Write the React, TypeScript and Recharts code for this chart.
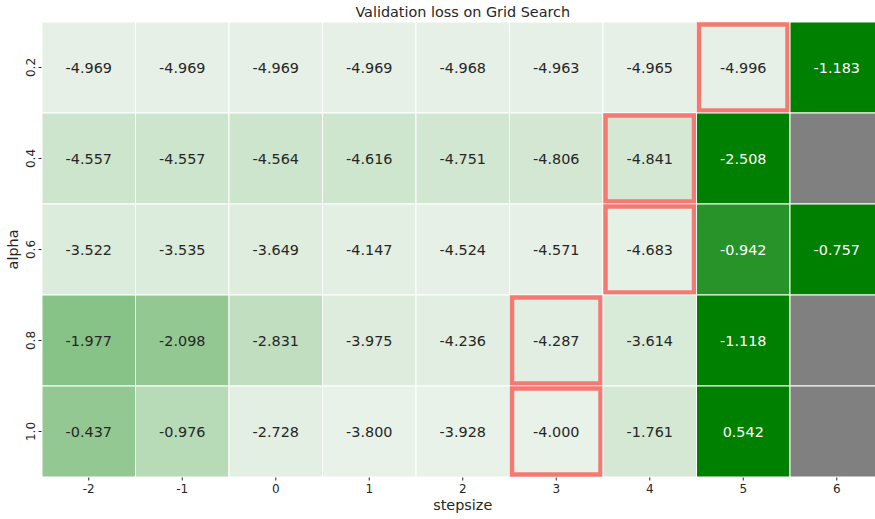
import { ScatterChart, Scatter, XAxis, YAxis } from "recharts"

const stepsizes = [-2, -1, 0, 1, 2, 3, 4, 5, 6]
const alphas = [0.2, 0.4, 0.6, 0.8, 1.0]

// validation loss, one array per alpha row (null = not run)
const loss02 = [-4.969, -4.969, -4.969, -4.969, -4.968, -4.963, -4.965, -4.996, -1.183]
const loss04 = [-4.557, -4.557, -4.564, -4.616, -4.751, -4.806, -4.841, -2.508, null]
const loss06 = [-3.522, -3.535, -3.649, -4.147, -4.524, -4.571, -4.683, -0.942, -0.757]
const loss08 = [-1.977, -2.098, -2.831, -3.975, -4.236, -4.287, -3.614, -1.118, null]
const loss10 = [-0.437, -0.976, -2.728, -3.8, -3.928, -4.0, -1.761, 0.542, null]
const lossRows = [loss02, loss04, loss06, loss08, loss10]

const FONT = "DejaVu Sans"
const W = 890
const H = 519
const PLOT_LEFT = 42
const PLOT_TOP = 22
const PLOT_RIGHT = 883.5
const PLOT_BOTTOM = 477
const CELL_W = (PLOT_RIGHT - PLOT_LEFT) / stepsizes.length
const CELL_H = (PLOT_BOTTOM - PLOT_TOP) / alphas.length

const LIGHT = [235, 243, 235]
const GREEN = [0, 128, 0]

function lin(c: number) {
  const s = c / 255
  return s <= 0.03928 ? s / 12.92 : Math.pow((s + 0.055) / 1.055, 2.4)
}

function colorFor(v: number, rowMax: number) {
  const t = Math.exp(v) / Math.exp(rowMax)
  const rgb = LIGHT.map((l, i) => Math.round(l + (GREEN[i] - l) * t))
  const lum = 0.2126 * lin(rgb[0]) + 0.7152 * lin(rgb[1]) + 0.0722 * lin(rgb[2])
  return { fill: `rgb(${rgb.join(",")})`, text: lum > 0.408 ? "#262626" : "#ffffff" }
}

const points = alphas.flatMap((a, r) => {
  const row = lossRows[r]
  const valid = row.filter((v) => v !== null) as number[]
  const rowMax = Math.max(...valid)
  const rowMin = Math.min(...valid)
  return stepsizes.map((s, c) => ({
    x: s,
    y: a,
    v: row[c],
    rowMax,
    isMin: row[c] === rowMin,
  }))
})

const HeatCell = (props: any) => {
  const { cx, cy, payload } = props
  const x = cx - CELL_W / 2
  const y = cy - CELL_H / 2
  if (payload.v === null) {
    return <rect x={x} y={y} width={CELL_W} height={CELL_H} fill="#808080" stroke="#ffffff" strokeWidth={1} />
  }
  const c = colorFor(payload.v, payload.rowMax)
  return (
    <g>
      <rect x={x} y={y} width={CELL_W} height={CELL_H} fill={c.fill} stroke="#ffffff" strokeWidth={1} />
      {payload.isMin && (
        <rect
          x={x + 2.5}
          y={y + 2.5}
          width={CELL_W - 5}
          height={CELL_H - 5}
          fill="none"
          stroke="#f37a72"
          strokeWidth={4.5}
        />
      )}
      <text x={cx} y={cy + 5.2} textAnchor="middle" fontFamily={FONT} fontSize={14.4} fill={c.text}>
        {payload.v.toFixed(3)}
      </text>
    </g>
  )
}

const YTick = (props: any) => {
  const { y, payload } = props
  return (
    <text
      x={35}
      y={y}
      transform={`rotate(-90, 35, ${y})`}
      textAnchor="middle"
      fontFamily={FONT}
      fontSize={12}
      fill="#262626"
    >
      {payload.value.toFixed(1)}
    </text>
  )
}

const XTick = (props: any) => {
  const { x, payload } = props
  return (
    <text x={x} y={492.5} textAnchor="middle" fontFamily={FONT} fontSize={12} fill="#262626">
      {payload.value}
    </text>
  )
}

export default function App() {
  return (
    <div style={{ position: "absolute", left: 0, top: 0, width: 875, height: 519, overflow: "hidden", background: "#fff" }}>
      <ScatterChart width={W} height={H} margin={{ top: PLOT_TOP, right: W - PLOT_RIGHT, bottom: 0, left: 0 }}>
        <XAxis
          type="number"
          dataKey="x"
          domain={[-2.5, 6.5]}
          ticks={stepsizes}
          interval={0}
          height={H - PLOT_BOTTOM}
          axisLine={false}
          tickSize={3.5}
          tickLine={{ stroke: "#262626" }}
          tick={<XTick />}
          label={{
            content: () => (
              <text x={(PLOT_LEFT + PLOT_RIGHT) / 2} y={510} textAnchor="middle" fontFamily={FONT} fontSize={14.4} fill="#262626">
                stepsize
              </text>
            ),
          }}
        />
        <YAxis
          type="number"
          dataKey="y"
          domain={[0.1, 1.1]}
          reversed
          ticks={alphas}
          interval={0}
          width={PLOT_LEFT}
          axisLine={false}
          tickSize={3.5}
          tickLine={{ stroke: "#262626" }}
          tick={<YTick />}
          label={{
            content: () => (
              <text
                x={18}
                y={249.5}
                transform="rotate(-90, 18, 249.5)"
                textAnchor="middle"
                fontFamily={FONT}
                fontSize={14.4}
                fill="#262626"
              >
                alpha
              </text>
            ),
          }}
        />
        <Scatter data={points} shape={<HeatCell />} isAnimationActive={false} />
      </ScatterChart>
      <svg width={875} height={22} style={{ position: "absolute", left: 0, top: 0 }}>
        <text x={(PLOT_LEFT + PLOT_RIGHT) / 2} y={17} textAnchor="middle" fontFamily={FONT} fontSize={14.4} fill="#262626">
          Validation loss on Grid Search
        </text>
      </svg>
    </div>
  )
}
